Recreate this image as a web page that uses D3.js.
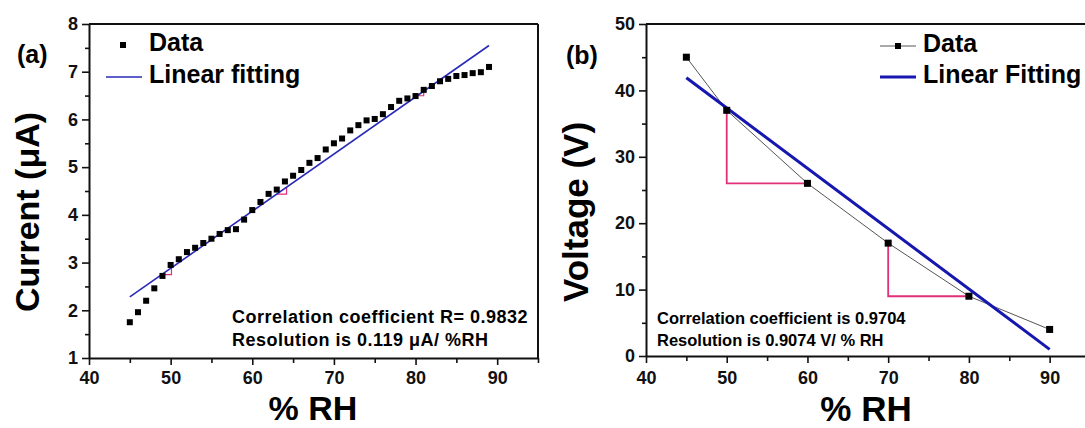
<!DOCTYPE html>
<html>
<head>
<meta charset="UTF-8">
<title>Current and voltage vs %RH</title>
<script src="https://d3js.org/d3.v7.min.js"></script>
<style>
  body { margin: 0; background: #fff; overflow: hidden; }
  svg { display: block; font-family: Arial, "Liberation Sans", sans-serif; font-weight: bold; }
  .domain { stroke: #111; stroke-width: 2; }
  .tick line { stroke: #111; stroke-width: 1.6; }
</style>
</head>
<body>
<svg width="1085" height="428"></svg>
<script>
// panel (a): current vs %RH
const rhA = [45, 46, 47, 48, 49, 50, 51, 52, 53, 54, 55, 56, 57, 58, 59, 60, 61, 62, 63, 64, 65, 66, 67,
             68, 69, 70, 71, 72, 73, 74, 75, 76, 77, 78, 79, 80, 81, 82, 83, 84, 85, 86, 87, 88, 89];
const currentA = [1.75, 1.96, 2.20, 2.46, 2.72, 2.95, 3.07, 3.22, 3.31, 3.41, 3.50, 3.60, 3.68, 3.70, 3.90,
                  4.10, 4.27, 4.44, 4.53, 4.70, 4.82, 4.94, 5.09, 5.19, 5.37, 5.50, 5.60, 5.77, 5.88, 5.98,
                  6.01, 6.11, 6.26, 6.39, 6.44, 6.49, 6.62, 6.70, 6.80, 6.85, 6.91, 6.93, 6.97, 6.99, 7.10];
const fitRhA = [45, 89];
const fitCurrentA = [2.28, 7.55];
const stepsA = [[48.9, 50.1], [63.0, 64.2], [80.2, 81.0]];   // small slope triangles on the fit

// panel (b): voltage vs %RH
const rhB = [45, 50, 60, 70, 80, 90];
const voltageB = [45, 37, 26, 17, 9, 4];
const fitRhB = [45, 90];
const fitVoltageB = [41.9, 1.0];
const stepsB = [[50, 37, 60, 26], [70, 17, 80, 9]];

const xTicks = [40, 50, 60, 70, 80, 90];
const xMinor = [45, 55, 65, 75, 85, 95];
const yTicksA = [1, 2, 3, 4, 5, 6, 7, 8];
const yMinorA = [1.5, 2.5, 3.5, 4.5, 5.5, 6.5, 7.5];
const yTicksB = [0, 10, 20, 30, 40, 50];
const yMinorB = [5, 15, 25, 35, 45];

const svg = d3.select("svg");
const pink = "#e0307a";

function styleLabels(a) {
  a.attr("font-family", null).attr("font-size", null);
  a.selectAll("text")
    .style("font-family", "Arial, 'Liberation Sans', sans-serif")
    .style("font-size", "18px").style("font-weight", "bold").attr("fill", "#111");
}

function drawAxes(g, x, y, o) {
  const [x0, x1] = x.range(), [y0, y1] = y.range();
  // minor ticks first
  g.append("g").attr("transform", `translate(0,${y0})`)
    .call(d3.axisBottom(x).tickValues(xMinor).tickSize(5).tickFormat(""))
    .call(a => a.select(".domain").remove());
  g.append("g").attr("transform", `translate(${x0},0)`)
    .call(d3.axisLeft(y).tickValues(o.yMinor).tickSize(4).tickFormat(""))
    .call(a => a.select(".domain").remove());
  g.append("g").attr("transform", `translate(0,${y0})`)
    .call(d3.axisBottom(x).tickValues(xTicks).tickSize(7).tickPadding(o.xPad)
      .tickSizeOuter(0).tickFormat(d3.format("d")))
    .call(styleLabels);
  g.append("g").attr("transform", `translate(${x0},0)`)
    .call(d3.axisLeft(y).tickValues(o.yTicks).tickSize(7).tickPadding(4)
      .tickSizeOuter(0).tickFormat(d3.format("d")))
    .call(styleLabels);
  // box top and right
  g.append("line").attr("x1", x0).attr("x2", x1).attr("y1", y1).attr("y2", y1)
    .attr("stroke", "#111").attr("stroke-width", 2);
  g.append("line").attr("x1", x1).attr("x2", x1).attr("y1", y1).attr("y2", y0)
    .attr("stroke", "#111").attr("stroke-width", 2);
}

// ---------- panel (a)
const xa = d3.scaleLinear().domain([40, 95]).range([89, 538]);
const ya = d3.scaleLinear().domain([1, 8]).range([358, 24]);
const ga = svg.append("g");
drawAxes(ga, xa, ya, { yTicks: yTicksA, yMinor: yMinorA, xPad: 6 });

const fitA = d3.scaleLinear().domain(fitRhA).range(fitCurrentA);
ga.selectAll(".stepA").data(stepsA).enter().append("path")
  .attr("fill", "none").attr("stroke", pink).attr("stroke-width", 1.2)
  .attr("d", d => `M${xa(d[0])},${ya(fitA(d[0]))}H${xa(d[1])}V${ya(fitA(d[1]))}`);

ga.append("line")
  .attr("x1", xa(fitRhA[0])).attr("y1", ya(fitCurrentA[0]))
  .attr("x2", xa(fitRhA[1])).attr("y2", ya(fitCurrentA[1]))
  .attr("stroke", "#2a2ab8").attr("stroke-width", 1.6);

ga.selectAll(".ptA").data(rhA).enter().append("rect")
  .attr("x", (d) => xa(d) - 3).attr("y", (d, i) => ya(currentA[i]) - 3)
  .attr("width", 6).attr("height", 6).attr("fill", "#000");

// legend (a)
ga.append("rect").attr("x", 120).attr("y", 42).attr("width", 6).attr("height", 6).attr("fill", "#000");
ga.append("text").attr("x", 149).attr("y", 51).attr("font-size", 25).text("Data");
ga.append("line").attr("x1", 106).attr("x2", 142).attr("y1", 77).attr("y2", 77)
  .attr("stroke", "#2a2ab8").attr("stroke-width", 1.6);
ga.append("text").attr("x", 149).attr("y", 83).attr("font-size", 25).text("Linear fitting");

ga.append("text").attr("x", 17).attr("y", 63).attr("font-size", 25).text("(a)");
ga.append("text").attr("x", 232).attr("y", 323).attr("font-size", 18).attr("letter-spacing", 0.5)
  .text("Correlation coefficient R= 0.9832");
ga.append("text").attr("x", 232).attr("y", 346).attr("font-size", 18).attr("letter-spacing", 0.5)
  .text("Resolution is 0.119 μA/ %RH");

ga.append("text").attr("transform", "translate(39,212) rotate(-90)")
  .attr("text-anchor", "middle").attr("font-size", 34).text("Current (μA)");
ga.append("text").attr("x", 313).attr("y", 420).attr("text-anchor", "middle")
  .attr("font-size", 34).text("% RH");

// ---------- panel (b)
const xb = d3.scaleLinear().domain([40, 95]).range([646, 1090]);
const yb = d3.scaleLinear().domain([0, 50]).range([356, 24]);
const gb = svg.append("g");
drawAxes(gb, xb, yb, { yTicks: yTicksB, yMinor: yMinorB, xPad: 8 });

gb.selectAll(".stepB").data(stepsB).enter().append("path")
  .attr("fill", "none").attr("stroke", pink).attr("stroke-width", 1.8)
  .attr("d", d => `M${xb(d[0])},${yb(d[1])}V${yb(d[3])}H${xb(d[2])}`);

gb.append("path").datum(rhB)
  .attr("fill", "none").attr("stroke", "#555").attr("stroke-width", 1)
  .attr("d", d3.line().x(d => xb(d)).y((d, i) => yb(voltageB[i])));

gb.append("line")
  .attr("x1", xb(fitRhB[0])).attr("y1", yb(fitVoltageB[0]))
  .attr("x2", xb(fitRhB[1])).attr("y2", yb(fitVoltageB[1]))
  .attr("stroke", "#1616b0").attr("stroke-width", 3);

gb.selectAll(".ptB").data(rhB).enter().append("rect")
  .attr("x", d => xb(d) - 3.5).attr("y", (d, i) => yb(voltageB[i]) - 3.5)
  .attr("width", 7).attr("height", 7).attr("fill", "#000");

// legend (b)
gb.append("line").attr("x1", 880).attr("x2", 916).attr("y1", 46).attr("y2", 46)
  .attr("stroke", "#555").attr("stroke-width", 1);
gb.append("rect").attr("x", 895).attr("y", 43).attr("width", 6).attr("height", 6).attr("fill", "#000");
gb.append("text").attr("x", 923).attr("y", 52).attr("font-size", 25).text("Data");
gb.append("line").attr("x1", 880).attr("x2", 916).attr("y1", 77).attr("y2", 77)
  .attr("stroke", "#1616b0").attr("stroke-width", 3);
gb.append("text").attr("x", 923).attr("y", 83).attr("font-size", 25).text("Linear Fitting");

gb.append("text").attr("x", 566).attr("y", 64).attr("font-size", 25).text("(b)");
gb.append("text").attr("x", 657).attr("y", 324).attr("font-size", 16.5)
  .text("Correlation coefficient is 0.9704");
gb.append("text").attr("x", 657).attr("y", 346).attr("font-size", 16.5)
  .text("Resolution is 0.9074 V/ % RH");

gb.append("text").attr("transform", "translate(588,212) rotate(-90)")
  .attr("text-anchor", "middle").attr("font-size", 35).text("Voltage (V)");
gb.append("text").attr("x", 866).attr("y", 421).attr("text-anchor", "middle")
  .attr("font-size", 35).text("% RH");
</script>
</body>
</html>
